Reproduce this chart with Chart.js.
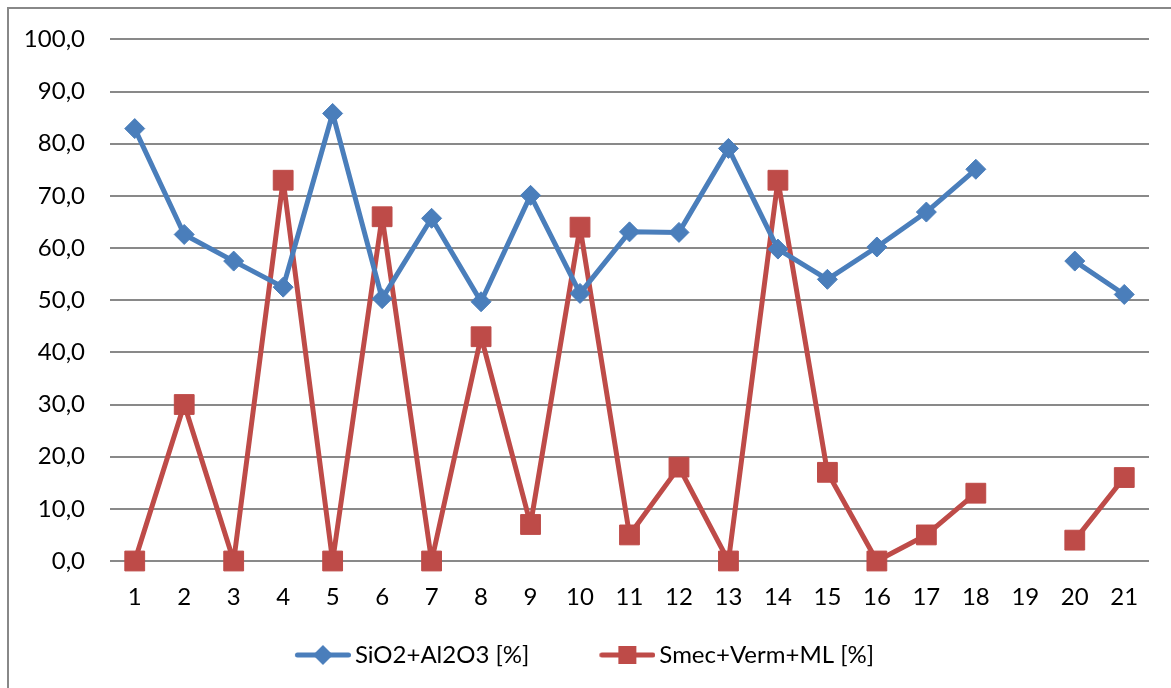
<!DOCTYPE html>
<html>
<head>
<meta charset="utf-8">
<script src="https://cdn.jsdelivr.net/npm/chart.js@4/dist/chart.umd.min.js"></script>
<style>
  html, body { margin: 0; padding: 0; background: #ffffff; overflow: hidden; }
  #frame { position: absolute; left: 7px; top: 7px; width: 1300px; height: 800px; border: 2px solid #888888; }
  #wrap { position: absolute; left: -28px; top: 0; width: 1199px; height: 688px; }
</style>
</head>
<body>
<div id="frame"></div>
<div id="wrap"><canvas id="chart" width="1199" height="688"></canvas></div>
<script>
const SAMPLES = ['1', '2', '3', '4', '5', '6', '7', '8', '9', '10', '11', '12', '13', '14', '15', '16', '17', '18', '19', '20', '21'];
const SIO2_AL2O3 = [82.9, 62.6, 57.5, 52.5, 85.8, 50.3, 65.7, 49.7, 70.1, 51.3, 63.1, 63.0, 79.1, 59.8, 54.0, 60.2, 66.9, 75.1, null, 57.5, 51.1];
const SMEC_VERM_ML = [0, 30, 0, 73, 0, 66, 0, 43, 7, 64, 5, 18, 0, 73, 17, 0, 5, 13, null, 4, 16];
const SERIES_LABELS = ['SiO2+Al2O3 [%]', 'Smec+Verm+ML [%]'];

const BLUE = '#4A7EBB';
const RED = '#BE4B48';
const FONT = 'Lato, Calibri, "DejaVu Sans", sans-serif';

// line-with-marker picture for the legend; the empty left part spaces the two items
function legendSymbol (color, style)
{
   let c = document.createElement('canvas');
   c.width = 112;
   c.height = 24;
   let g = c.getContext('2d');
   g.strokeStyle = color;
   g.fillStyle = color;
   g.lineWidth = 5;
   g.lineCap = 'round';
   g.beginPath();
   g.moveTo(58.5, 12);
   g.lineTo(109.5, 12);
   g.stroke();
   g.beginPath();
   if (style == 'rectRot')
   {
      g.moveTo(84, 2);
      g.lineTo(94, 12);
      g.lineTo(84, 22);
      g.lineTo(74, 12);
   }
   else
   {
      g.rect(75, 3, 18, 18);
   }
   g.fill();
   return c;
}

function decimalComma (v)
{
   return v.toFixed(1).replace('.', ',');
}

let symbols = [legendSymbol(BLUE, 'rectRot'), legendSymbol(RED, 'rect')];

let chart = new Chart(document.getElementById('chart'), {
   type: 'line',
   data: {
      labels: SAMPLES,
      datasets: [
         {
            label: SERIES_LABELS [0],
            data: SIO2_AL2O3,
            borderColor: BLUE,
            backgroundColor: BLUE,
            borderWidth: 5,
            borderJoinStyle: 'round',
            pointStyle: 'rectRot',
            pointRadius: 10,
            pointHoverRadius: 10,
            pointBorderWidth: 1,
            tension: 0,
            spanGaps: false,
            clip: false
         },
         {
            label: SERIES_LABELS [1],
            data: SMEC_VERM_ML,
            borderColor: RED,
            backgroundColor: RED,
            borderWidth: 5,
            borderJoinStyle: 'round',
            pointStyle: 'rect',
            pointRadius: 14,
            pointHoverRadius: 14,
            pointBorderWidth: 1,
            tension: 0,
            spanGaps: false,
            clip: false
         }
      ]
   },
   options: {
      responsive: false,
      animation: false,
      layout: { padding: { left: 0, right: 22, top: 37, bottom: 11 } },
      scales: {
         x: {
            offset: true,
            grid: { display: false, drawTicks: false },
            border: { display: false },
            ticks: { color: '#000000', font: { family: FONT, size: 24 }, padding: 22, maxRotation: 0, autoSkip: false },
            afterFit: function (scale) { scale.height = 60; }
         },
         y: {
            min: 0,
            max: 100,
            grid: { color: '#898989', lineWidth: 2, drawTicks: false },
            border: { display: false },
            ticks: {
               stepSize: 10,
               color: '#000000',
               font: { family: FONT, size: 24 },
               padding: 25,
               callback: function (v) { return decimalComma(v); }
            },
            afterFit: function (scale) { scale.width = 138; }
         }
      },
      plugins: {
         tooltip: { enabled: false },
         legend: {
            position: 'bottom',
            labels: {
               color: '#000000',
               font: { family: FONT, size: 24 },
               usePointStyle: true,
               pointStyleWidth: 96,
               padding: 22,
               generateLabels: function (ch) {
                  let items = Chart.defaults.plugins.legend.labels.generateLabels(ch);
                  items.forEach(function (it, i) { it.pointStyle = symbols [i]; });
                  return items;
               }
            }
         }
      }
   }
});
</script>
</body>
</html>
